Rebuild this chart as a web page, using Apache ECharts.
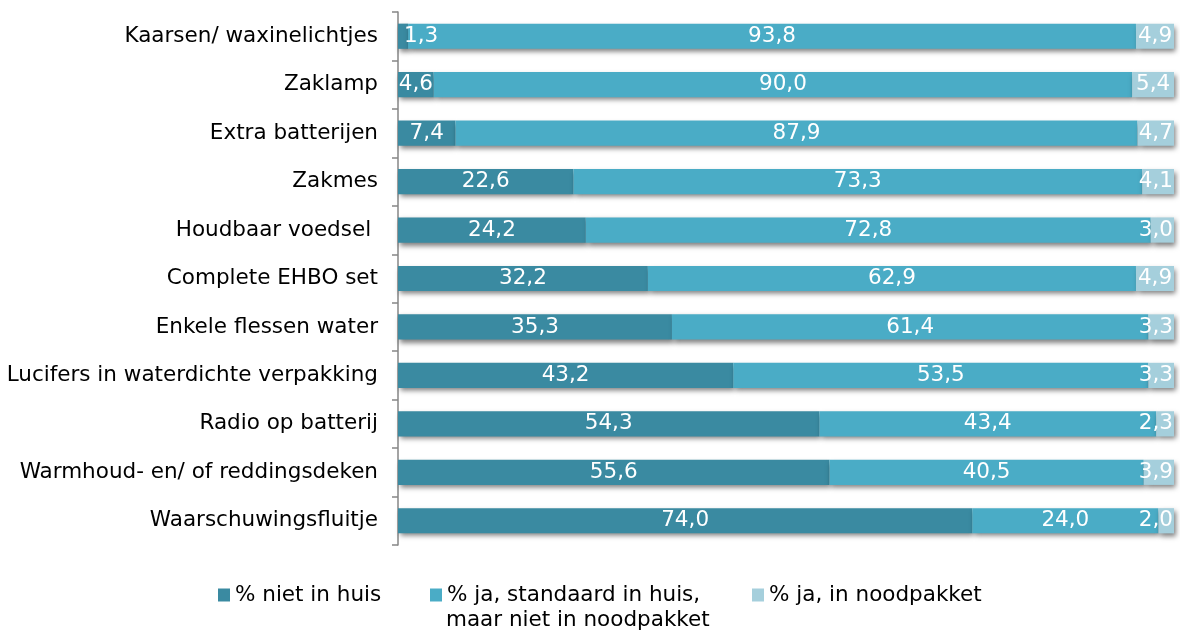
<!DOCTYPE html>
<html><head><meta charset="utf-8">
<script src="https://cdn.jsdelivr.net/npm/echarts@6/dist/echarts.min.js"></script>
<style>html,body{margin:0;padding:0;background:#fff}#c{width:1180px;height:632px}</style>
</head><body><div id="c"></div>
<script>
const categories = ["Kaarsen/ waxinelichtjes","Zaklamp","Extra batterijen","Zakmes","Houdbaar voedsel ","Complete EHBO set","Enkele flessen water","Lucifers in waterdichte verpakking","Radio op batterij","Warmhoud- en/ of reddingsdeken","Waarschuwingsfluitje"];
const nietInHuis = [1.3,4.6,7.4,22.6,24.2,32.2,35.3,43.2,54.3,55.6,74.0];
const standaard = [93.8,90.0,87.9,73.3,72.8,62.9,61.4,53.5,43.4,40.5,24.0];
const noodpakket = [4.9,5.4,4.7,4.1,3.0,4.9,3.3,3.3,2.3,3.9,2.0];
const seriesNames = ["% niet in huis","% ja, standaard in huis, maar niet in noodpakket","% ja, in noodpakket"];
const legendLine1 = "% ja, standaard in huis,";
const legendLine2 = "maar niet in noodpakket";
const colors = ["#3a8aa1","#4aacc6","#a5cfdc"];
const font = "DejaVu Sans, Verdana, sans-serif";
const FS = 21.5;
const PL = 398, PR = 1174;
const chart = echarts.init(document.getElementById('c'));
function mk(name, data, color){
  return {
    name, type:'bar', stack:'t', data, barWidth:'52%',
    itemStyle:{color, shadowBlur:5, shadowOffsetX:2, shadowOffsetY:3, shadowColor:'rgba(0,0,0,0.5)'},
    label:{show:true, position:'inside', color:'#fff', fontFamily:font, fontSize:FS, overflow:'none',
      formatter:p=>p.value.toFixed(1).replace('.',',')},
    labelLayout:function(p){
      const r = p.labelRect;
      const cy = r.y + r.height/2;
      if (r.x < PL) return {x: PL + 6 + r.width/2, y: cy, align:'center', verticalAlign:'middle'};
      if (r.x + r.width > PR) return {x: PR - 1 - r.width/2, y: cy, align:'center', verticalAlign:'middle'};
      return {};
    },
    emphasis:{disabled:true}
  };
}
function lg(name, left, fmt){
  return {top:579,left,itemWidth:12,itemHeight:13,icon:'rect',selectedMode:false,
    textStyle:{fontFamily:font,fontSize:FS,color:'#000'},
    formatter: fmt ? (()=>fmt) : undefined,
    data:[name]};
}
chart.setOption({
  animation:false,
  color:colors,
  grid:{left:PL,right:1180-PR,top:12,bottom:87,containLabel:false},
  xAxis:{type:'value',min:0,max:100,show:false},
  yAxis:{type:'category',inverse:true,data:categories,
    axisLine:{show:true,lineStyle:{color:'#868686',width:1.5}},
    axisTick:{show:true,length:6,lineStyle:{color:'#868686',width:1.5}},
    axisLabel:{color:'#000',fontFamily:font,fontSize:FS,margin:20}},
  legend:[lg(seriesNames[0],213),lg(seriesNames[1],425,legendLine1),lg(seriesNames[2],747)],
  graphic:[{type:'text',left:446,top:609,style:{text:legendLine2,fontFamily:font,fontSize:FS,fill:'#000'}}],
  series:[mk(seriesNames[0],nietInHuis,colors[0]),mk(seriesNames[1],standaard,colors[1]),mk(seriesNames[2],noodpakket,colors[2])]
});
</script></body></html>
